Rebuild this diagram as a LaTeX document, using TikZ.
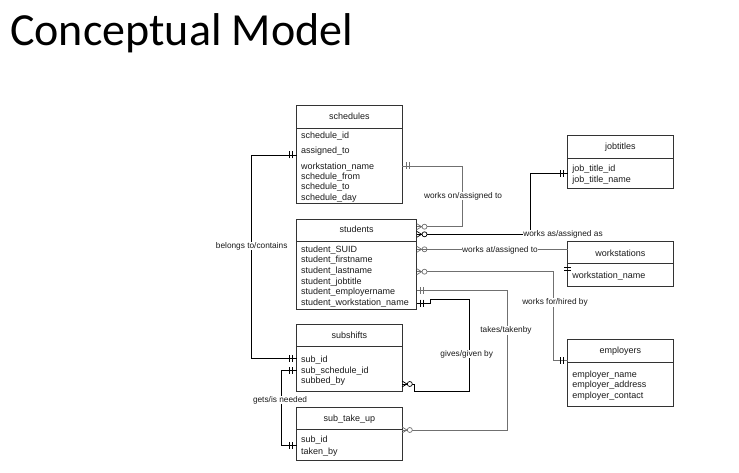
\documentclass[tikz,border=0pt]{standalone}
\usepackage{fontspec}
\setmainfont{Liberation Sans}
\newfontfamily\titlefont{Carlito}
\usetikzlibrary{calc}
\definecolor{edgec}{HTML}{333333}
\definecolor{gline}{HTML}{707070}
\definecolor{txt}{HTML}{1A1A1A}
\tikzset{
  ent/.style={draw=edgec, line width=0.8pt, inner sep=0pt, outer sep=0pt, anchor=north west},
  sepline/.style={draw=edgec, line width=0.8pt},
  ttl/.style={font=\fontsize{9}{10}\selectfont, text=txt, inner sep=0pt, anchor=base},
  row/.style={font=\fontsize{9}{10}\selectfont, text=txt, inner sep=0pt, anchor=base west},
  lbl/.style={font=\fontsize{8.3}{9}\selectfont, text=txt, fill=white, inner sep=0.6pt},
  conn/.style={line width=0.8pt, draw=black},
  gconn/.style={line width=0.8pt, draw=gline},
  pics/onemk/.style={code={\draw[line width=0.7pt] (4,-3.5)--(4,3.5) (7,-3.5)--(7,3.5);}},
  pics/zmany/.style={code={\draw[line width=0.7pt] (0,-3)--(5,0)--(0,3);
     \draw[line width=0.7pt, fill=white] (7.8,0) circle (2.5);}},
  pics/zmanyx/.style={code={\draw[line width=0.7pt] (0,-3)--(5,0)--(0,3);
     \draw[line width=0.7pt] (7.8,0) circle (2.5);}},
}
\begin{document}
\begin{tikzpicture}[x=1pt,y=-1pt]
\useasboundingbox (0,0) rectangle (739,473);

\node[anchor=base west, inner sep=0pt, font=\titlefont\fontsize{46}{50}\selectfont] (title) at (10,45.5) {Conceptual Model};

% schedules
\node[ent, minimum width=105.3pt, minimum height=98pt] (sch) at (296.7,105) {};
\draw[sepline] (sch.west |- 0,128) -- (sch.east |- 0,128);
\node[ttl] (schT) at (349.35,120) {schedules};
\node[row] (sch1) at (301,139) {schedule\_id};
\node[row] (sch2) at (301,153.5) {assigned\_to};
\node[row] (sch3) at (301,169.3) {workstation\_name};
\node[row] (sch4) at (301,179.6) {schedule\_from};
\node[row] (sch5) at (301,189.9) {schedule\_to};
\node[row] (sch6) at (301,200.2) {schedule\_day};

% students
\node[ent, minimum width=120pt, minimum height=90pt] (stu) at (296.7,219) {};
\draw[sepline] (stu.west |- 0,241.7) -- (stu.east |- 0,241.7);
\node[ttl] (stuT) at (356.7,233) {students};
\node[row] (stu1) at (301,252.3) {student\_SUID};
\node[row] (stu2) at (301,262.9) {student\_firstname};
\node[row] (stu3) at (301,273.5) {student\_lastname};
\node[row] (stu4) at (301,284.1) {student\_jobtitle};
\node[row] (stu5) at (301,294.7) {student\_employername};
\node[row] (stu6) at (301,305.3) {student\_workstation\_name};

% subshifts
\node[ent, minimum width=105.3pt, minimum height=67.7pt] (subs) at (296.7,324) {};
\draw[sepline] (subs.west |- 0,346.7) -- (subs.east |- 0,346.7);
\node[ttl] (subsT) at (349.35,338) {subshifts};
\node[row] (subs1) at (301,362.3) {sub\_id};
\node[row] (subs2) at (301,373) {sub\_schedule\_id};
\node[row] (subs3) at (301,383.5) {subbed\_by};

% sub_take_up
\node[ent, minimum width=105.3pt, minimum height=53pt] (sut) at (296.7,407) {};
\draw[sepline] (sut.west |- 0,429) -- (sut.east |- 0,429);
\node[ttl] (sutT) at (349.35,421.5) {sub\_take\_up};
\node[row] (sut1) at (301,442.3) {sub\_id};
\node[row] (sut2) at (301,454) {taken\_by};

% jobtitles
\node[ent, minimum width=105.3pt, minimum height=52.3pt] (job) at (567.7,135.7) {};
\draw[sepline] (job.west |- 0,158) -- (job.east |- 0,158);
\node[ttl] (jobT) at (620.35,150) {jobtitles};
\node[row] (job1) at (572.2,171.3) {job\_title\_id};
\node[row] (job2) at (572.2,182.3) {job\_title\_name};

% workstations
\node[ent, minimum width=105.3pt, minimum height=44.3pt] (wst) at (567.7,241.7) {};
\draw[sepline] (wst.west |- 0,263) -- (wst.east |- 0,263);
\node[ttl] (wstT) at (620.35,256) {workstations};
\node[row] (wst1) at (572.2,278.3) {workstation\_name};

% employers
\node[ent, minimum width=105.3pt, minimum height=67.7pt] (emp) at (567.7,339) {};
\draw[sepline] (emp.west |- 0,362) -- (emp.east |- 0,362);
\node[ttl] (empT) at (620.35,353.3) {employers};
\node[row] (emp1) at (572.2,377.3) {employer\_name};
\node[row] (emp2) at (572.2,387.6) {employer\_address};
\node[row] (emp3) at (572.2,398) {employer\_contact};

% belongs to/contains
\draw[conn] (sch.west |- 0,155) -| (251.7,358) -- (subs.west |- 0,358);
\pic[rotate=180] at (sch.west |- 0,155) {onemk};
\pic[rotate=180] at (subs.west |- 0,358) {onemk};
\node[lbl] (l1) at (251.7,246) {belongs to/contains};

% works on/assigned to
\draw[gconn] (sch.east |- 0,166) -| (462,226.7) -- (stu.east |- 0,226.7);
\pic[color=gline] at (sch.east |- 0,166) {onemk};
\pic[color=gline] at (stu.east |- 0,226.7) {zmany};
\node[lbl] (l2) at (463,196) {works on/assigned to};

% works as/assigned as
\draw[conn] (stu.east |- 0,234.3) -| (530,173.3) -- (job.west |- 0,173.3);
\pic at (stu.east |- 0,234.3) {zmany};
\pic[rotate=180] at (job.west |- 0,173.3) {onemk};
\node[lbl] (l3) at (563,234.3) {works as/assigned as};

% works at/assigned to
\draw[gconn] (stu.east |- 0,249.3) -- (wst.west |- 0,249.3);
\pic[color=gline] at (stu.east |- 0,249.3) {zmanyx};
\pic[rotate=-90] at (wst.west |- 0,263) {onemk};
\node[lbl] (l4) at (500,250) {works at/assigned to};

% works for/hired by
\draw[gconn] (stu.east |- 0,271.7) -| (553,360) -- (emp.west |- 0,360);
\pic[color=gline] at (stu.east |- 0,271.7) {zmany};
\pic[rotate=180] at (emp.west |- 0,360) {onemk};
\node[lbl] (l5) at (555,302.7) {works for/hired by};

% takes/takenby
\draw[gconn] (stu.east |- 0,290.7) -| (507.3,430) -- (sut.east |- 0,430);
\pic[color=gline] at (stu.east |- 0,290.7) {onemk};
\pic[color=gline] at (sut.east |- 0,430) {zmany};
\node[lbl] (l6) at (506,330.7) {takes/takenby};

% gives/given by
\draw[conn] (stu.east |- 0,303) -- (430,303) -- (430,299) -- (469.3,299) -- (469.3,391.7) -- (414.5,391.7) -- (414.5,384) -- (subs.east |- 0,384);
\pic at (stu.east |- 0,303) {onemk};
\pic at (subs.east |- 0,384) {zmany};
\node[lbl] (l7) at (466.7,354) {gives/given by};

% gets/is needed
\draw[conn] (subs.west |- 0,370) -| (281,445) -- (sut.west |- 0,445);
\pic[rotate=180] at (subs.west |- 0,370) {onemk};
\pic[rotate=180] at (sut.west |- 0,445) {onemk};
\node[lbl] (l8) at (280,400) {gets/is needed};
\end{tikzpicture}
\end{document}
